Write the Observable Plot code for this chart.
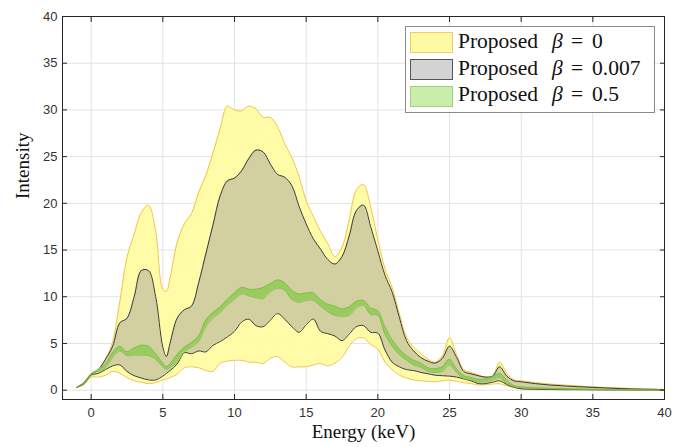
<!DOCTYPE html>
<html><head><meta charset="utf-8">
<script src="https://cdn.jsdelivr.net/npm/d3@7"></script>
<script src="https://cdn.jsdelivr.net/npm/@observablehq/plot@0.6"></script>
<style>
body{margin:0;background:#fff;}
#wrap{position:relative;width:683px;height:447px;overflow:hidden;}
.legend{position:absolute;left:405px;top:26px;width:250px;height:87px;border:1px solid #8a8a8a;background:#fff;box-sizing:border-box;}
.sw{position:absolute;left:4px;width:43px;height:21px;box-sizing:border-box;border:1.5px solid;}
.lt{position:absolute;white-space:nowrap;font-family:"Liberation Serif",serif;font-size:21.5px;color:#111;line-height:22px;}
</style></head><body><div id="wrap"></div><script>
const energy = [-1,-0.5,0,0.5,1,1.5,2,2.5,3,3.5,4,4.5,5,5.25,5.5,6,6.5,7,7.5,8,8.5,9,9.5,10,10.5,11,11.5,12,12.5,13,13.5,14,14.5,15,15.5,16,16.5,17,17.5,18,18.5,19,19.5,20,20.5,21,21.5,22,22.5,23,23.5,24,24.5,25,25.5,26,26.5,27,27.5,28,28.5,29,29.5,30,31,32,33,34,35,36,37,38,39,40];
// beta = 0 band
const b0Upper = [0.3,0.8,1.8,2.2,3.3,5.2,9.5,14.2,16.7,19.0,19.8,17.0,10.8,10.6,12.0,15.8,17.8,18.9,21.2,23.0,25.4,28.0,30.4,30.0,29.9,30.4,30.1,29.2,29.2,28.2,26.4,24.9,22.9,20.3,18.6,17.0,15.7,14.3,15.3,18.2,21.4,22.0,19.6,16.1,13.0,11.0,8.2,5.7,4.6,3.9,3.3,3.0,3.7,5.6,3.8,2.2,1.9,1.65,1.4,1.5,3.0,1.8,1.1,1.0,0.8,0.65,0.55,0.45,0.35,0.28,0.22,0.16,0.12,0.08];
const b0Lower = [0.3,0.6,1.4,1.4,1.6,2.0,1.8,1.35,1.0,0.85,0.7,0.8,1.1,1.2,1.35,1.7,2.4,2.5,2.4,2.1,2.0,2.9,3.1,3.2,3.2,3.0,3.0,2.85,3.4,3.6,3.0,2.5,2.5,2.5,2.7,2.85,2.6,2.9,3.5,4.7,5.5,5.6,4.9,4.4,3.0,2.2,1.6,1.3,1.1,1.0,0.95,0.9,1.0,1.07,0.95,0.8,0.7,0.55,0.6,0.65,0.7,0.45,0.3,0.15,0.1,0.08,0.06,0.05,0.05,0.04,0.03,0.03,0.02,0.02];
// beta = 0.007 band
const b1Upper = [0.3,0.8,1.7,2.2,3.3,4.7,7.2,7.7,10.0,12.8,12.8,10.0,4.6,3.6,5.0,7.7,8.6,9.0,11.5,14.6,17.7,20.8,22.4,22.7,23.5,24.8,25.7,25.5,24.2,23.1,22.8,21.9,19.7,17.8,16.2,15.1,14.0,13.5,14.3,16.5,19.2,19.8,17.5,14.9,12.3,10.5,7.8,5.3,4.2,3.5,3.1,2.9,3.4,4.7,3.5,2.0,1.75,1.55,1.4,1.5,2.5,1.5,1.0,0.9,0.7,0.55,0.45,0.37,0.3,0.23,0.17,0.12,0.09,0.06];
const b1Lower = [0.3,0.7,1.6,1.8,2.2,2.6,2.7,2.0,1.55,1.3,1.1,1.1,1.5,1.8,2.1,2.8,4.0,3.9,4.2,4.1,4.8,5.2,5.7,6.3,7.3,7.6,6.9,6.8,7.5,8.2,7.6,6.8,6.2,7.0,7.6,6.3,6.05,5.8,5.3,6.0,6.8,6.9,6.2,6.1,4.3,3.0,2.5,2.2,2.1,1.9,1.75,1.6,1.55,1.5,1.4,1.2,1.0,0.7,0.7,0.85,1.0,0.6,0.3,0.15,0.1,0.07,0.05,0.05,0.04,0.03,0.03,0.02,0.02,0.02];
// beta = 0.5 band
const b2Upper = [0.3,0.8,1.7,2.2,2.8,4.0,4.7,4.1,4.5,4.8,4.7,3.9,2.9,2.5,2.8,3.8,4.6,5.1,5.8,7.5,8.3,8.9,9.7,10.4,11.0,10.8,10.8,11.0,11.4,11.8,11.5,10.7,10.3,10.4,10.4,9.7,9.2,9.0,8.7,8.9,9.5,9.6,8.8,8.5,6.8,5.4,4.4,3.7,3.2,2.9,2.4,2.3,2.5,3.3,2.3,1.55,1.35,1.15,1.2,1.4,1.8,1.07,0.5,0.35,0.25,0.2,0.16,0.13,0.1,0.08,0.06,0.05,0.03,0.02];
const b2Lower = [0.3,0.8,1.7,2.0,2.4,3.5,4.2,3.7,3.75,3.75,3.7,3.3,2.5,2.2,2.4,3.0,4.1,4.6,5.2,6.8,7.7,8.3,9.1,9.7,10.3,10.1,9.9,9.8,10.5,10.9,10.7,9.7,9.4,9.6,9.6,9.0,8.4,8.0,7.9,8.0,8.8,9.1,8.1,8.0,6.0,4.7,3.8,3.2,2.7,2.45,2.0,1.9,2.0,2.7,1.9,1.2,1.07,0.87,0.9,1.1,1.35,0.7,0.35,0.25,0.17,0.13,0.1,0.08,0.06,0.05,0.04,0.03,0.02,0.01];
const xTicks = [0,5,10,15,20,25,30,35,40];
const yTicks = [0,5,10,15,20,25,30,35,40];
const betas = ["0","0.007","0.5"];
const legendWord = "Proposed";
const xLabel = "Energy (keV)";
const yLabel = "Intensity";

const rows = energy.map((e,i)=>({e, u0:b0Upper[i], l0:b0Lower[i], u1:b1Upper[i], l1:b1Lower[i], u2:b2Upper[i], l2:b2Lower[i]}));
const curve = "catmull-rom";
const band = (u,l,fill,stroke,sw) => [
  Plot.areaY(rows,{x:"e", y1:l, y2:u, fill, curve}),
  Plot.line(rows,{x:"e", y:u, stroke, strokeWidth:sw, curve}),
  Plot.line(rows,{x:"e", y:l, stroke, strokeWidth:sw, curve})
];
const axisColor = "#262626";
const chart = Plot.plot({
  width:683, height:447,
  marginLeft:62, marginRight:19, marginTop:16, marginBottom:48,
  style:{fontFamily:"'Liberation Sans', Arial, sans-serif", fontSize:"13px", color:"#333", background:"#fff"},
  x:{domain:[-2,40]},
  y:{domain:[-1,40]},
  marks:[
    Plot.gridX(xTicks,{stroke:"#e3e3e3", strokeOpacity:1}),
    Plot.gridY(yTicks,{stroke:"#e3e3e3", strokeOpacity:1}),
    ...band("u0","l0","#fffba6","#f0c54c",1),
    ...band("u1","l1","#d2d0a0","#3a3a3a",1),
    ...band("u2","l2","#98cc5e","#7cbb45",0.8),
    Plot.frame({stroke:axisColor, strokeWidth:1}),
    Plot.axisX(xTicks,{anchor:"bottom", tickSize:-5, tickPadding:13, label:null, stroke:axisColor, fill:"#333"}),
    Plot.axisX(xTicks,{anchor:"top", tickSize:-5, tickFormat:()=>"", label:null, stroke:axisColor}),
    Plot.axisY(yTicks,{anchor:"left", tickSize:-5, tickPadding:10, label:null, stroke:axisColor, fill:"#333"}),
    Plot.axisY(yTicks,{anchor:"right", tickSize:-5, tickFormat:()=>"", label:null, stroke:axisColor}),
    Plot.text([xLabel],{frameAnchor:"bottom", dy:38.5, fontSize:19, fontFamily:"'Liberation Serif', serif", fill:"#111", text:d=>d, style:"letter-spacing:2.3px"}),
    Plot.text([yLabel],{frameAnchor:"left", dx:-40, dy:-9, rotate:-90, fontSize:19, fontFamily:"'Liberation Serif', serif", fill:"#111", text:d=>d})
  ]
});
const wrap = document.getElementById("wrap");
wrap.appendChild(chart);
const sw = [["#fff9a3","#f3cc66"],["#d3d3d3","#555555"],["#c9eeaa","#9fd27a"]];
const leg = document.createElement("div");
leg.className = "legend";
betas.forEach((b,i)=>{
  const step = 26.7;
  const s = document.createElement("div");
  s.className = "sw";
  s.style.top = (5.3 + i*step) + "px";
  s.style.background = sw[i][0];
  s.style.borderColor = sw[i][1];
  leg.appendChild(s);
  const pieces = [[legendWord, 52, ""], ["β", 146, "font-style:italic"], ["=", 165, ""], [b, 186, ""]];
  pieces.forEach(([t, left, st])=>{
    const d = document.createElement("div");
    d.className = "lt";
    d.style.cssText = `left:${left}px;top:${3 + i*step}px;${st}`;
    d.textContent = t;
    leg.appendChild(d);
  });
});
wrap.appendChild(leg);
</script></body></html>
